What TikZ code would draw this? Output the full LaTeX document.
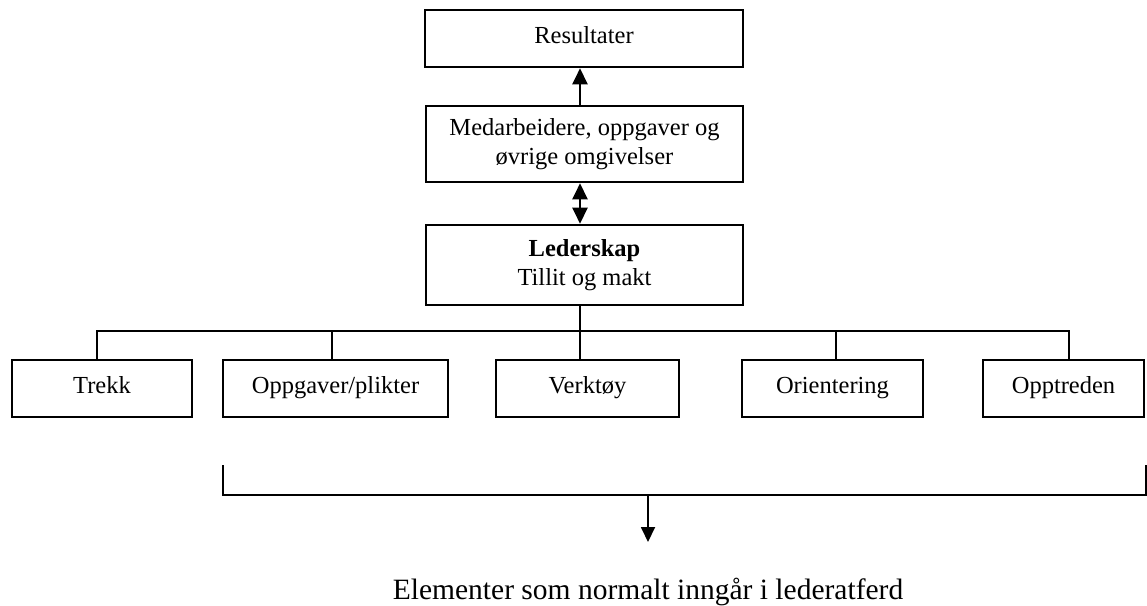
\documentclass[tikz,border=0pt]{standalone}
\usepackage{fontspec}
\setmainfont{Liberation Serif}
\usetikzlibrary{arrows.meta}
\begin{document}
\begin{tikzpicture}[x=1pt,y=-1pt,
  box/.style={draw,line width=2.6pt,minimum width=#1,inner sep=0pt,align=center,
    font=\fontsize{24.5}{29}\selectfont},
  one/.style={minimum height=57pt,text height=16pt,text depth=7pt},
  conn/.style={line width=2.4pt},
  tip/.style={-{Triangle[length=16pt,width=15pt]}},
  dtip/.style={{Triangle[length=16pt,width=15pt]}-{Triangle[length=16pt,width=15pt]}}]
\useasboundingbox (0,0) rectangle (1147,605);
\node[box=318pt,one] (res) at (584,38.5) {Resultater};
\node[box=317pt,minimum height=76pt] (med) at (584.5,144) {Medarbeidere, oppgaver og\\øvrige omgivelser};
\node[box=317pt,minimum height=80pt] (led) at (584.5,265) {\textbf{Lederskap}\\Tillit og makt};
\node[box=180pt,one] (trekk) at (102,388.5) {Trekk};
\node[box=225pt,one] (opp) at (335.5,388.5) {Oppgaver/plikter};
\node[box=183pt,one] (verk) at (587.5,388.5) {Verktøy};
\node[box=181pt,one] (ori) at (832.5,388.5) {Orientering};
\node[box=161pt,one] (optr) at (1063.5,388.5) {Opptreden};
\coordinate (sp) at (580,0);
\coordinate (d1) at (97,331);
\coordinate (d2) at (332,331);
\coordinate (d3) at (580,331);
\coordinate (d4) at (836,331);
\coordinate (d5) at (1069,331);
\draw[conn,tip] (med.north -| sp) -- (res.south -| sp);
\draw[conn,dtip] (med.south -| sp) -- (led.north -| sp);
\draw[conn] (led.south -| sp) -- (verk.north -| sp);
\draw[conn,line cap=rect] (d1) -- (d5);
\draw[conn] (d1) -- (d1 |- trekk.north);
\draw[conn] (d2) -- (d2 |- opp.north);
\draw[conn] (d4) -- (d4 |- ori.north);
\draw[conn] (d5) -- (d5 |- optr.north);
\coordinate (b1) at (223,465);
\coordinate (b2) at (1146,465);
\coordinate (bm) at (648,495);
\draw[line width=1.8pt] (b1) -- (b1 |- bm) -- (b2 |- bm) -- (b2);
\node[anchor=base,inner sep=0pt,font=\fontsize{29.5}{34}\selectfont] (el) at (648,599) {Elementer som normalt inngår i lederatferd};
\coordinate (at) at (648,542);
\draw[line width=1.8pt,-{Triangle[length=15pt,width=14pt]}] (bm) -- (at);
\end{tikzpicture}
\end{document}
